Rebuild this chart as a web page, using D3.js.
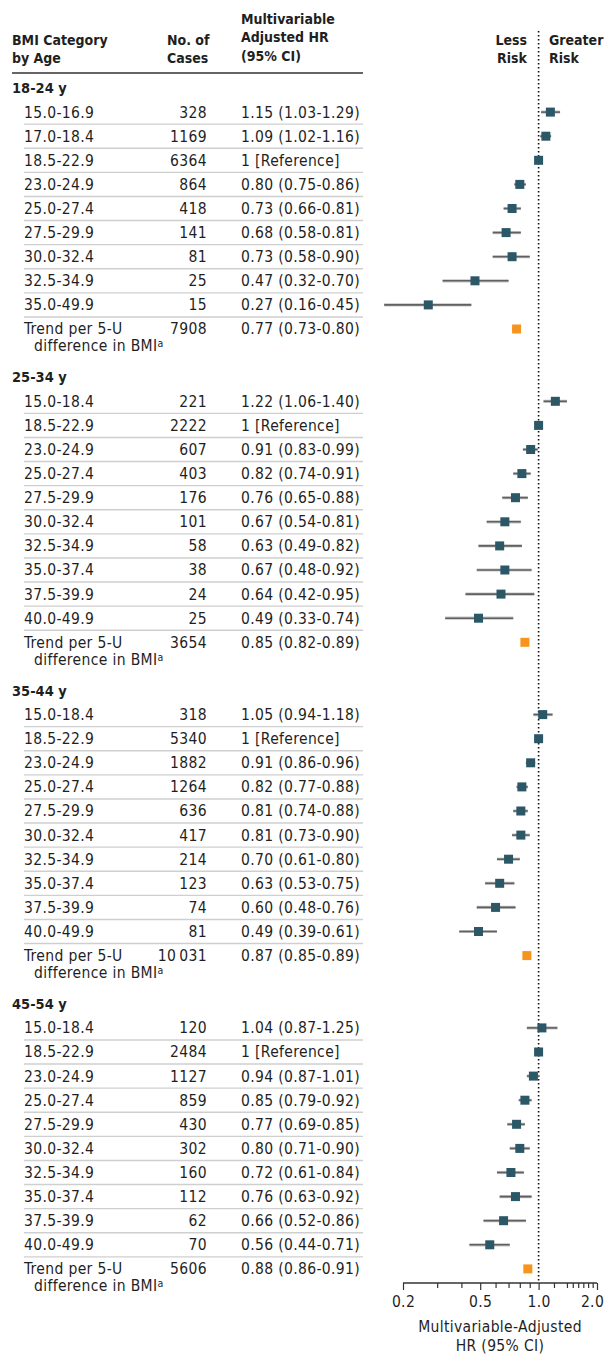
<!DOCTYPE html>
<html>
<head>
<meta charset="utf-8">
<script src="https://cdn.jsdelivr.net/npm/d3@7"></script>
<style>
    body { margin: 0; background: #fff; }
    svg { display: block; font-family: "DejaVu Sans Condensed", "DejaVu Sans", sans-serif; }
</style>
</head>
<body>
<svg id="chart"></svg>
<script>
const ageGroups = ["18-24 y", "25-34 y", "35-44 y", "45-54 y"];
const bmiCategories = [
    ["15.0-16.9", "17.0-18.4", "18.5-22.9", "23.0-24.9", "25.0-27.4", "27.5-29.9", "30.0-32.4", "32.5-34.9", "35.0-49.9"],
    ["15.0-18.4", "18.5-22.9", "23.0-24.9", "25.0-27.4", "27.5-29.9", "30.0-32.4", "32.5-34.9", "35.0-37.4", "37.5-39.9", "40.0-49.9"],
    ["15.0-18.4", "18.5-22.9", "23.0-24.9", "25.0-27.4", "27.5-29.9", "30.0-32.4", "32.5-34.9", "35.0-37.4", "37.5-39.9", "40.0-49.9"],
    ["15.0-18.4", "18.5-22.9", "23.0-24.9", "25.0-27.4", "27.5-29.9", "30.0-32.4", "32.5-34.9", "35.0-37.4", "37.5-39.9", "40.0-49.9"]
];
const cases = [
    [328, 1169, 6364, 864, 418, 141, 81, 25, 15],
    [221, 2222, 607, 403, 176, 101, 58, 38, 24, 25],
    [318, 5340, 1882, 1264, 636, 417, 214, 123, 74, 81],
    [120, 2484, 1127, 859, 430, 302, 160, 112, 62, 70]
];
const hr = [
    [1.15, 1.09, 1, 0.80, 0.73, 0.68, 0.73, 0.47, 0.27],
    [1.22, 1, 0.91, 0.82, 0.76, 0.67, 0.63, 0.67, 0.64, 0.49],
    [1.05, 1, 0.91, 0.82, 0.81, 0.81, 0.70, 0.63, 0.60, 0.49],
    [1.04, 1, 0.94, 0.85, 0.77, 0.80, 0.72, 0.76, 0.66, 0.56]
];
const ciLow = [
    [1.03, 1.02, null, 0.75, 0.66, 0.58, 0.58, 0.32, 0.16],
    [1.06, null, 0.83, 0.74, 0.65, 0.54, 0.49, 0.48, 0.42, 0.33],
    [0.94, null, 0.86, 0.77, 0.74, 0.73, 0.61, 0.53, 0.48, 0.39],
    [0.87, null, 0.87, 0.79, 0.69, 0.71, 0.61, 0.63, 0.52, 0.44]
];
const ciHigh = [
    [1.29, 1.16, null, 0.86, 0.81, 0.81, 0.90, 0.70, 0.45],
    [1.40, null, 0.99, 0.91, 0.88, 0.81, 0.82, 0.92, 0.95, 0.74],
    [1.18, null, 0.96, 0.88, 0.88, 0.90, 0.80, 0.75, 0.76, 0.61],
    [1.25, null, 1.01, 0.92, 0.85, 0.90, 0.84, 0.92, 0.86, 0.71]
];
const trendCases = [7908, 3654, 10031, 5606];
const trendHR = [0.77, 0.85, 0.87, 0.88];
const trendLow = [0.73, 0.82, 0.85, 0.86];
const trendHigh = [0.80, 0.89, 0.89, 0.91];
const axisTicks = [0.2, 0.3, 0.4, 0.5, 0.6, 0.7, 0.8, 0.9, 1.0, 1.2, 1.4, 1.5, 1.6, 1.7, 1.8, 1.9, 2.0];
const axisLabels = [0.2, 0.5, 1.0, 2.0];

const W = 605, H = 1355;
const textColor = "#1f1f1f";
const fontSize = 15.5;
const spacing = "0.35px";
const colX = {group: 12, label: 24, cases: 207, hr: 241, tableEnd: 363};

const svg = d3.select("#chart").attr("width", W).attr("height", H);

// build row list on a 24px grid
const rows = [];
let k = 0;
ageGroups.forEach(function (g, gi) {
    rows.push({type: "group", idx: k, label: g});
    bmiCategories[gi].forEach(function (c, i) {
        rows.push({
            type: "row", idx: k + 1 + i, label: c, cases: cases[gi][i],
            hr: hr[gi][i], lo: ciLow[gi][i], hi: ciHigh[gi][i]
        });
    });
    const n = bmiCategories[gi].length;
    rows.push({
        type: "trend", idx: k + n + 1, cases: trendCases[gi],
        hr: trendHR[gi], lo: trendLow[gi], hi: trendHigh[gi]
    });
    k += n + 3;
});
const lastIdx = d3.max(rows, d => d.idx);

const y = d3.scaleLinear().domain([0, lastIdx]).range([88, 88 + lastIdx * 24.1]);
const x = d3.scaleLog().domain([0.2, 2]).range([403, 597]);
const axisY = 1283;

const fmtCases = d => d >= 10000 ? d3.format("d")(d).replace(/(\d{2})(\d{3})$/, "$1\u2009$2") : String(d);
const fmtHR = function (d) {
    if (d.lo === null) return "1 [Reference]";
    return `${d.hr.toFixed(2)} (${d.lo.toFixed(2)}-${d.hi.toFixed(2)})`;
};

// Column headers
const headers = [
    {x: colX.group, anchor: "start", lines: ["BMI Category", "by Age"], y0: 40},
    {x: 167, anchor: "start", lines: ["No. of", "Cases"], y0: 40},
    {x: colX.hr, anchor: "start", lines: ["Multivariable", "Adjusted HR", "(95% CI)"], y0: 19},
    {x: 527, anchor: "end", lines: ["Less", "Risk"], y0: 40},
    {x: 549, anchor: "start", lines: ["Greater", "Risk"], y0: 40}
];
headers.forEach(function (h) {
    h.lines.forEach(function (l, i) {
        svg.append("text")
            .attr("x", h.x)
            .attr("y", h.y0 + i * 18.5)
            .attr("dy", "0.35em")
            .attr("text-anchor", h.anchor)
            .style("font-size", "14px")
            .style("font-weight", "bold")
            .style("fill", textColor)
            .text(l);
    });
});

svg.append("line")
    .attr("x1", colX.group).attr("x2", colX.tableEnd)
    .attr("y1", 73).attr("y2", 73)
    .style("stroke", "#333")
    .style("stroke-width", 1.5);

// Separators between rows (not after the group title)
rows.filter(d => d.type !== "group" && rows.find(r => r.idx === d.idx - 1 && r.type !== "group"))
    .forEach(function (d) {
        svg.append("line")
            .attr("x1", colX.label).attr("x2", colX.tableEnd)
            .attr("y1", y(d.idx - 0.5)).attr("y2", y(d.idx - 0.5))
            .style("stroke", "#cfcfcf")
            .style("stroke-width", 1.4);
    });

// Table text
const table = svg.append("g")
    .style("font-size", fontSize + "px")
    .style("letter-spacing", spacing)
    .style("fill", textColor);

table.selectAll("text.group")
    .data(rows.filter(d => d.type === "group"))
    .enter()
    .append("text")
    .attr("x", colX.group)
    .attr("y", d => y(d.idx))
    .attr("dy", "0.35em")
    .style("font-weight", "bold")
    .style("font-size", "14.5px")
    .style("letter-spacing", "0px")
    .text(d => d.label);

const dataRows = rows.filter(d => d.type !== "group");

table.selectAll("text.label")
    .data(rows.filter(d => d.type === "row"))
    .enter()
    .append("text")
    .attr("x", colX.label)
    .attr("y", d => y(d.idx))
    .attr("dy", "0.35em")
    .text(d => d.label);

const trendRows = rows.filter(d => d.type === "trend");
table.selectAll("text.trend1")
    .data(trendRows)
    .enter()
    .append("text")
    .attr("x", colX.label)
    .attr("y", d => y(d.idx))
    .attr("dy", "0.35em")
    .text("Trend per 5-U");
const t2 = table.selectAll("text.trend2")
    .data(trendRows)
    .enter()
    .append("text")
    .attr("x", colX.label + 10)
    .attr("y", d => y(d.idx) + 17)
    .attr("dy", "0.35em")
    .text("difference in BMI");
t2.append("tspan")
    .attr("dy", "-0.4em")
    .style("font-size", "10.5px")
    .text("a");

table.selectAll("text.cases")
    .data(dataRows)
    .enter()
    .append("text")
    .attr("x", colX.cases)
    .attr("y", d => y(d.idx))
    .attr("dy", "0.35em")
    .attr("text-anchor", "end")
    .text(d => fmtCases(d.cases));

table.selectAll("text.hr")
    .data(dataRows)
    .enter()
    .append("text")
    .attr("x", colX.hr)
    .attr("y", d => y(d.idx))
    .attr("dy", "0.35em")
    .text(fmtHR);

// Reference line at HR = 1
svg.append("line")
    .attr("x1", x(1)).attr("x2", x(1))
    .attr("y1", 31).attr("y2", axisY)
    .style("stroke", "#111")
    .style("stroke-width", 1.6)
    .style("stroke-dasharray", "1.6,2.4");

// CI lines
const ciRows = dataRows.filter(d => d.lo !== null);
svg.selectAll("line.ci-halo")
    .data(ciRows)
    .enter()
    .append("line")
    .attr("x1", d => x(d.lo)).attr("x2", d => x(d.hi))
    .attr("y1", d => y(d.idx)).attr("y2", d => y(d.idx))
    .style("stroke", "#c4c4c4")
    .style("stroke-width", 3.2);
svg.selectAll("line.ci")
    .data(ciRows)
    .enter()
    .append("line")
    .attr("x1", d => x(d.lo)).attr("x2", d => x(d.hi))
    .attr("y1", d => y(d.idx)).attr("y2", d => y(d.idx))
    .style("stroke", d => d.type === "trend" ? "#b5b5b5" : "#606060")
    .style("stroke-width", 1.6);

// Squares
const sq = 9;
svg.selectAll("rect.pt")
    .data(dataRows)
    .enter()
    .append("rect")
    .attr("x", d => x(d.hr) - sq / 2)
    .attr("y", d => y(d.idx) - sq / 2)
    .attr("width", sq)
    .attr("height", sq)
    .style("fill", d => d.type === "trend" ? "#f7941d" : "#2b5766");

// Axis
const axis = svg.append("g")
    .attr("transform", `translate(0, ${axisY})`)
    .call(d3.axisBottom(x)
        .tickValues(axisTicks)
        .tickSize(5)
        .tickPadding(8)
        .tickFormat(d => axisLabels.includes(d) ? d.toFixed(1) : ""));
axis.select(".domain")
    .attr("d", `M${x(0.2)},0H${x(2)}`)
    .style("stroke", "#333")
    .style("stroke-width", 1.5);
axis.selectAll(".tick line")
    .attr("y2", d => axisLabels.includes(d) ? 7 : 5)
    .style("stroke", "#333")
    .style("stroke-width", 1.2);
axis.selectAll(".tick text")
    .attr("dx", d => d === 2 ? -5 : 0)
    .style("font-family", "\"DejaVu Sans Condensed\", \"DejaVu Sans\", sans-serif")
    .style("font-size", fontSize + "px")
    .style("letter-spacing", spacing)
    .style("fill", textColor);

// Axis title
["Multivariable-Adjusted", "HR (95% CI)"].forEach(function (l, i) {
    svg.append("text")
        .attr("x", 500)
        .attr("y", 1327 + i * 19)
        .attr("dy", "0.35em")
        .attr("text-anchor", "middle")
        .style("font-size", fontSize + "px")
        .style("letter-spacing", spacing)
        .style("fill", textColor)
        .text(l);
});
</script>
</body>
</html>
